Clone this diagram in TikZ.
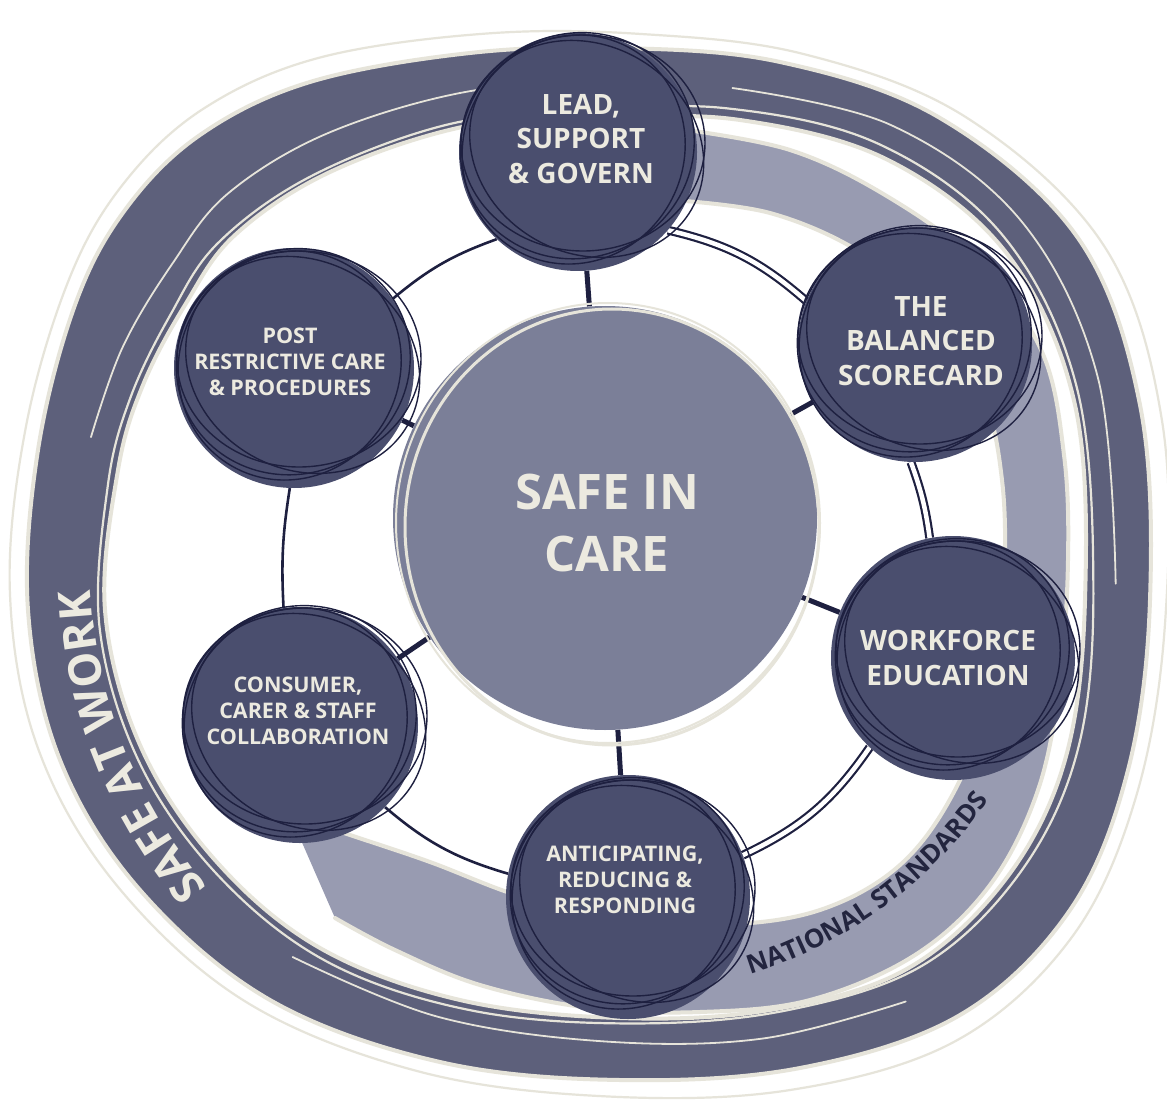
\documentclass[tikz,border=0pt]{standalone}
\usepackage{fontspec}
\setmainfont{Open Sans}
\usetikzlibrary{decorations.text}
\definecolor{darkband}{HTML}{5D607B}
\definecolor{lightband}{HTML}{989BB1}
\definecolor{corefill}{HTML}{7B7F98}
\definecolor{satfill}{HTML}{4A4E6E}
\definecolor{inkline}{HTML}{1E2040}
\definecolor{cream}{HTML}{E6E4DA}
\definecolor{creamtext}{HTML}{ECEAE0}
\definecolor{navytext}{HTML}{23253F}
\pgfdeclarelayer{bands}
\pgfdeclarelayer{links}
\pgfsetlayers{bands,links,main}
\newcommand\sketchring[1]{%
  \begin{scope}[shift={(#1.center)}]
    \draw[sk] (5,-9) ellipse [x radius=122, y radius=108];
    \draw[sk, rotate=25] (2,-6) ellipse [x radius=118, y radius=112];
    \draw[sk, rotate=-30] (6,-7) ellipse [x radius=121, y radius=104];
    \draw[sk, rotate=60] (0,-5) ellipse [x radius=116, y radius=110];
  \end{scope}}
\begin{document}
\begin{tikzpicture}[x=1pt,y=-1pt,
  sat/.style={circle, fill=satfill, inner sep=0pt, minimum size=#1},
  sk/.style={draw=inkline, line width=1.4pt},
  creamln/.style={draw=cream, line width=4pt, line cap=round},
  creamthin/.style={draw=cream, line width=2.2pt, line cap=round},
  conn/.style={draw=inkline, line width=2.6pt},
  dconn/.style={draw=inkline, line width=2.2pt, double=white, double distance=4.5pt},
  spoke/.style={draw=inkline, line width=5pt},
  bigtxt/.style={text=creamtext, align=center, font=\bfseries\fontsize{28}{34.5}\selectfont},
  smalltxt/.style={text=creamtext, align=center, font=\bfseries\fontsize{21.5}{26}\selectfont},
  coretxt/.style={text=creamtext, align=center, font=\bfseries\fontsize{49}{62}\selectfont},
]
\useasboundingbox (0,0) rectangle (1167,1107);
\begin{pgfonlayer}{bands}
\fill[white] (0,0) rectangle (1167,1107);
% SAFE AT WORK band
\fill[darkband, even odd rule]
  plot[smooth cycle, tension=0.6] coordinates {(1150,600) (1128,770) (1070,910) (960,1015) (800,1068) (620,1080) (440,1062) (270,1000) (140,890) (60,760) (28,610) (38,450) (75,305) (125,210) (200,135) (310,82) (470,53) (620,48) (780,62) (940,118) (1078,238) (1140,405)}
  plot[smooth cycle, tension=0.6] coordinates {(1085,600) (1065,760) (1005,880) (905,970) (770,1010) (620,1018) (460,1000) (320,948) (215,860) (140,745) (105,610) (118,470) (143,385) (185,305) (235,235) (330,172) (467,126) (600,118) (740,120) (888,160) (1008,255) (1075,405)};
\draw[creamln] plot[smooth cycle, tension=0.6] coordinates {(1150,600) (1128,770) (1070,910) (960,1015) (800,1068) (620,1080) (440,1062) (270,1000) (140,890) (60,760) (28,610) (38,450) (75,305) (125,210) (200,135) (310,82) (470,53) (620,48) (780,62) (940,118) (1078,238) (1140,405)};
\draw[creamthin, shift={(590,565)}, scale=1.03, rotate=-2, shift={(-590,-565)}] plot[smooth cycle, tension=0.6] coordinates {(1150,600) (1128,770) (1070,910) (960,1015) (800,1068) (620,1080) (440,1062) (270,1000) (140,890) (60,760) (28,610) (38,450) (75,305) (125,210) (200,135) (310,82) (470,53) (620,48) (780,62) (940,118) (1078,238) (1140,405)};
\draw[creamln] plot[smooth cycle, tension=0.6] coordinates {(1085,600) (1065,760) (1005,880) (905,970) (770,1010) (620,1018) (460,1000) (320,948) (215,860) (140,745) (105,610) (118,470) (143,385) (185,305) (235,235) (330,172) (467,126) (600,118) (740,120) (888,160) (1008,255) (1075,405)};
\draw[creamthin, shift={(590,565)}, scale=1.015, rotate=2, shift={(-590,-565)}] plot[smooth cycle, tension=0.6] coordinates {(1085,600) (1065,760) (1005,880) (905,970) (770,1010) (620,1018) (460,1000) (320,948) (215,860) (140,745) (105,610) (118,470) (143,385) (185,305) (235,235) (330,172) (467,126) (600,118) (740,120) (888,160) (1008,255) (1075,405)};
\draw[creamthin, line width=1.8pt, shift={(590,565)}, scale=1.07, rotate=-3, shift={(-590,-565)}] plot[smooth, tension=0.6] coordinates {(118,470) (143,385) (185,305) (235,235) (330,172) (467,126) (600,118)};
\draw[creamthin, line width=1.8pt, shift={(590,565)}, scale=1.06, rotate=2, shift={(-590,-565)}] plot[smooth, tension=0.6] coordinates {(740,120) (888,160) (1008,255) (1075,405) (1085,600)};
\draw[creamthin, line width=1.8pt, shift={(590,565)}, scale=1.05, rotate=-2, shift={(-590,-565)}] plot[smooth, tension=0.6] coordinates {(905,970) (770,1010) (620,1018) (460,1000) (320,948)};
% NATIONAL STANDARDS band
\fill[lightband]
  plot[smooth, tension=0.6] coordinates {(672,128) (790,150) (890,198) (980,265) (1042,352) (1064,455) (1068,560) (1060,680) (1038,790) (990,885) (915,955) (810,1000) (700,1012) (590,1008) (480,985) (395,950) (335,918)}
  -- plot[smooth, tension=0.6] coordinates {(290,815) (350,835) (430,862) (510,893) (600,920) (720,925) (820,910) (900,865) (955,790) (992,690) (1004,580) (1002,480) (982,392) (930,312) (860,252) (770,213) (672,200)} -- cycle;
\draw[creamln] plot[smooth, tension=0.6] coordinates {(672,128) (790,150) (890,198) (980,265) (1042,352) (1064,455) (1068,560) (1060,680) (1038,790) (990,885) (915,955) (810,1000) (700,1012) (590,1008) (480,985) (395,950) (335,918)};
\draw[creamln] plot[smooth, tension=0.6] coordinates {(290,815) (350,835) (430,862) (510,893) (600,920) (720,925) (820,910) (900,865) (955,790) (992,690) (1004,580) (1002,480) (982,392) (930,312) (860,252) (770,213) (672,200)};
\end{pgfonlayer}

% centre and satellites
\node[circle, fill=corefill, inner sep=0pt, minimum size=424pt] (core) at (605,518) {};
\draw[cream, line width=3pt] ([shift={(7,9)}]core.center) ellipse [x radius=207, y radius=218];
\draw[cream, line width=2pt] ([shift={(3,5)}]core.center) ellipse [x radius=212, y radius=220];

\node[sat=238pt] (lead) at (578,152) {};
\node[sat=234pt] (bal)  at (915,345) {};
\node[sat=244pt] (work) at (953,658) {};
\node[sat=244pt] (anti) at (628,897) {};
\node[sat=236pt] (cons) at (300,725) {};
\node[sat=240pt] (post) at (294,368) {};

\sketchring{lead}
\sketchring{bal}
\sketchring{work}
\sketchring{anti}
\sketchring{cons}
\sketchring{post}

\begin{pgfonlayer}{links}
\draw[spoke] (core) -- (lead);
\draw[spoke] (core) -- (bal);
\draw[spoke] (core) -- (work);
\draw[spoke] (core) -- (anti);
\draw[spoke] (core) -- (cons);
\draw[spoke] (core) -- (post);
\draw[conn] (lead.227) to[bend right=10] (post.35);
\draw[conn] (post.268) to[bend right=6] (cons.98);
\draw[conn] (cons.316) to[bend right=12] (anti.169);
\draw[dconn] (anti.20) to[bend right=15] (work.227);
\draw[dconn] (work.101) to[bend right=6] (bal.268);
\draw[dconn] (bal.158) to[bend right=14] (lead.319);
\end{pgfonlayer}

\node[coretxt] (coret) at (607,523) {SAFE IN\\CARE};
\node[bigtxt] (leadt) at (581,139) {LEAD,\\SUPPORT\\\& GOVERN};
\node[bigtxt] (balt) at (921,341) {THE\\BALANCED\\SCORECARD};
\node[bigtxt] (workt) at (948,658) {WORKFORCE\\EDUCATION};
\node[smalltxt] (antit) at (625,880) {ANTICIPATING,\\REDUCING \&\\RESPONDING};
\node[smalltxt] (const) at (298,711) {CONSUMER,\\CARER \& STAFF\\COLLABORATION};
\node[smalltxt] (postt) at (290,362) {POST\\RESTRICTIVE CARE\\\& PROCEDURES};

% curved band labels
\path[decorate, decoration={text along path, text align=center, text color=creamtext,
  text={|\bfseries\fontsize{45}{45}\selectfont|SAFE AT WORK}}]
  plot[domain=0:44, samples=60, variable=\t] ({590+500*cos(136.5+\t)}, {565+500*sin(136.5+\t)});
\path[decorate, decoration={text along path, text align=center, text color=navytext,
  text={|\bfseries\fontsize{26}{26}\selectfont|NATIONAL STANDARDS}}]
  plot[domain=0:44, samples=60, variable=\t] ({590+(442.7+0.556*\t)*cos(72-\t)}, {560+(442.7+0.556*\t)*sin(72-\t)});
\end{tikzpicture}
\end{document}
